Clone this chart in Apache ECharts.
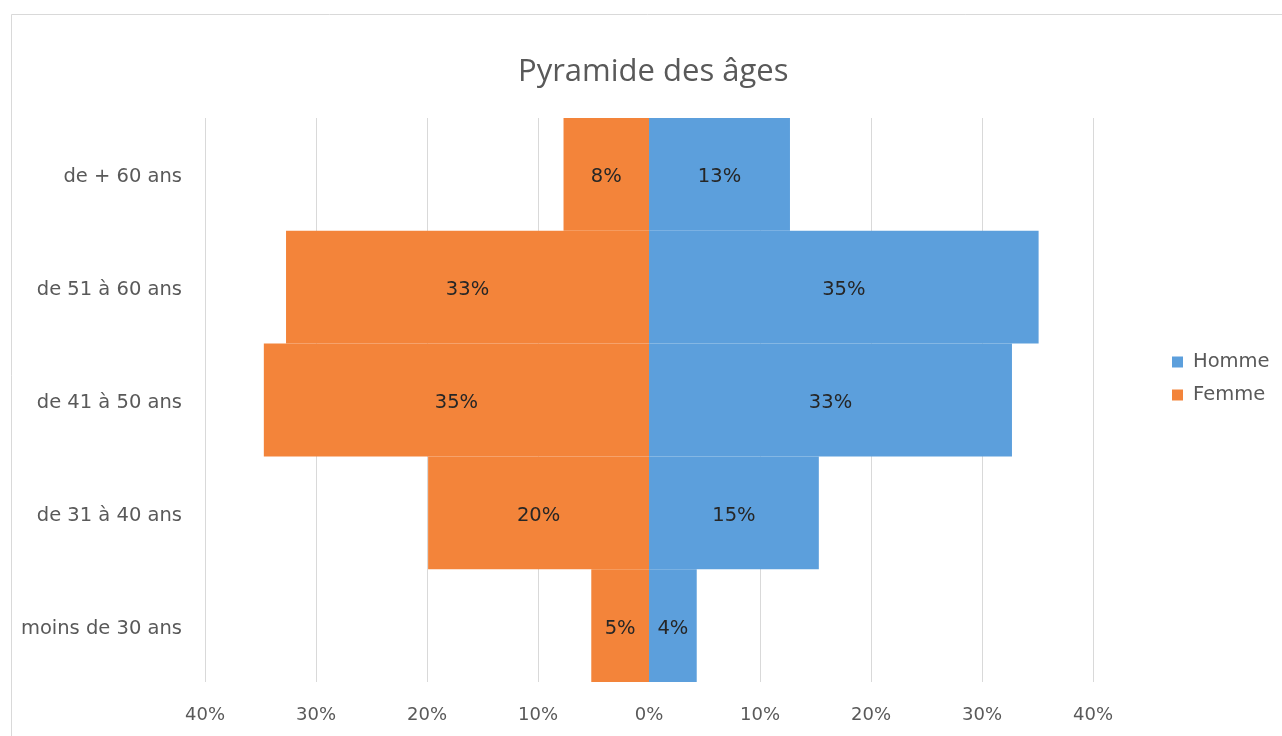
<!DOCTYPE html>
<html><head><meta charset="utf-8">
<script src="https://cdn.jsdelivr.net/npm/echarts@6/dist/echarts.min.js"></script>
<style>html,body{margin:0;padding:0;background:#fff}#c{width:1282px;height:736px}</style>
</head><body><div id="c"></div>
<script>
const categories = ['moins de 30 ans', 'de 31 à 40 ans', 'de 41 à 50 ans', 'de 51 à 60 ans', 'de + 60 ans'];
const homme = [4.3, 15.3, 32.7, 35.1, 12.7];
const femme = [5.2, 19.9, 34.7, 32.7, 7.7];
const xTicks = [-40, -30, -20, -10, 0, 10, 20, 30, 40];

const font = '"DejaVu Sans", "Open Sans", sans-serif';
const titleFont = '"Open Sans", "Liberation Sans", sans-serif';
const chart = echarts.init(document.getElementById('c'), null, {renderer: 'canvas'});
const lbl = {
  show: true, position: 'inside', offset: [0, 3], color: '#262626', fontSize: 19.5, fontFamily: font,
  formatter: p => Math.round(Math.abs(p.value)) + '%'
};
chart.setOption({
  animation: false,
  backgroundColor: '#fff',
  title: {
    text: 'Pyramide des âges', left: 513, top: 52,
    textStyle: {color: '#595959', fontSize: 31, fontWeight: 'normal', fontFamily: titleFont}
  },
  graphic: [{type: 'rect', shape: {x: 11.5, y: 14.5, width: 1300, height: 760},
    style: {fill: 'none', stroke: '#d9d9d9', lineWidth: 1}, z: -10}],
  legend: {
    orient: 'vertical', left: 1167, top: 347, itemWidth: 11, itemHeight: 11, itemGap: 13,
    icon: 'rect',
    data: ['Homme', 'Femme'],
    textStyle: {color: '#595959', fontSize: 19.5, fontFamily: font, padding: [0, 0, 0, 5]}
  },
  grid: {left: 205, right: 189, top: 118, bottom: 54, containLabel: false},
  xAxis: {
    type: 'value', min: xTicks[0], max: xTicks[xTicks.length - 1], interval: 10,
    axisLine: {show: false}, axisTick: {show: false},
    splitLine: {lineStyle: {color: '#d9d9d9', width: 1}},
    axisLabel: {color: '#595959', fontSize: 18, fontFamily: font, margin: 24,
      formatter: v => Math.abs(v) + '%'}
  },
  yAxis: {
    type: 'category', data: categories,
    axisLine: {show: false}, axisTick: {show: false},
    axisLabel: {margin: 23, formatter: v => '{a|' + v + '}',
      rich: {a: {color: '#595959', fontSize: 19.5, fontFamily: font, padding: [6, 0, 0, 0]}}}
  },
  series: [
    {name: 'Homme', type: 'bar', stack: 'p', data: homme, barCategoryGap: 0,
      itemStyle: {color: '#5C9FDC'}, label: lbl},
    {name: 'Femme', type: 'bar', stack: 'p', data: femme.map(v => -v), barCategoryGap: 0,
      itemStyle: {color: '#F3843A'}, label: lbl}
  ]
});
</script></body></html>
